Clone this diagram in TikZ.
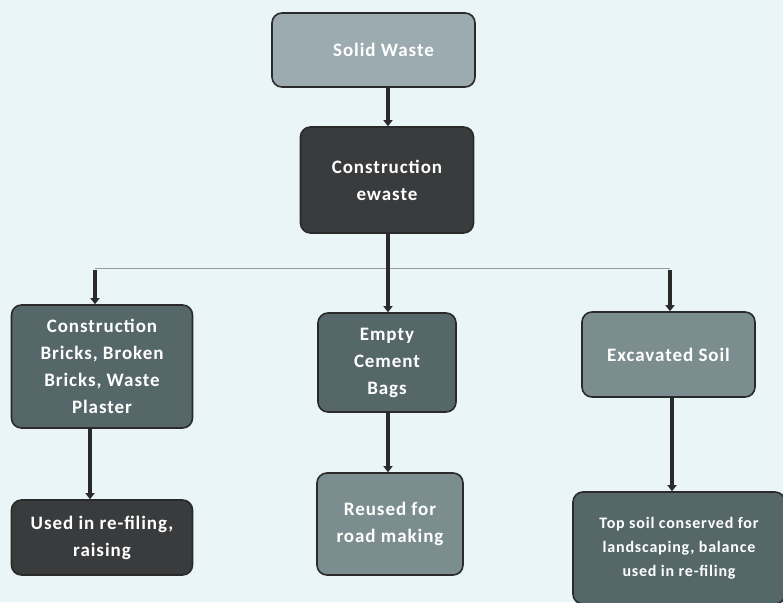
\documentclass[tikz,border=0pt]{standalone}
\usepackage{fontspec}
\setmainfont{Carlito}
\newfontfamily\boxfont[LetterSpace=5]{Carlito}
\usetikzlibrary{arrows.meta}
\definecolor{bg}{HTML}{EAF5F7}
\definecolor{lightbox}{HTML}{9CABB0}
\definecolor{darkbox}{HTML}{3A3B3C}
\definecolor{slatebox}{HTML}{56676A}
\definecolor{midbox}{HTML}{7C8D90}
\definecolor{edge}{HTML}{2A2A2A}
\tikzset{
  box/.style={draw=edge, line width=1.6pt, rounded corners=10pt, text=white,
    align=center, inner sep=0pt, font=\boxfont\fontsize{19}{27}\selectfont\bfseries},
  conn/.style={draw=edge, line width=3.5pt, -{Triangle[width=9pt,length=6pt]}},
  hline/.style={draw=gray!80, line width=1pt}
}
\begin{document}
\begin{tikzpicture}[x=1pt,y=-1pt]
\fill[bg] (0,0) rectangle (783,602);
\useasboundingbox (0,0) rectangle (783,602);
% nodes (centers, sizes)
\node[box, fill=lightbox, minimum width=203pt, minimum height=74pt, font=\boxfont\fontsize{19}{22}\selectfont\bfseries] (sw) at (373.5,50) {\hspace*{20pt}Solid Waste};
\node[box, fill=darkbox, minimum width=173pt, minimum height=106pt] (ce) at (387,180) {Construction\\ewaste};
\node[box, fill=slatebox, minimum width=181pt, minimum height=123pt] (cb) at (102,366.5) {Construction\\Bricks, Broken\\Bricks, Waste\\Plaster};
\node[box, fill=slatebox, minimum width=138pt, minimum height=99pt] (ec) at (387,362.5) {Empty\\Cement\\Bags};
\node[box, fill=midbox, minimum width=173pt, minimum height=85pt] (es) at (668.5,354.5) {Excavated Soil};
\node[box, fill=darkbox, minimum width=181pt, minimum height=75pt] (ur) at (102,537.5) {Used in re-filing,\\raising};
\node[box, fill=midbox, minimum width=146pt, minimum height=102pt] (rr) at (390,524) {Reused for\\road making};
\node[box, fill=slatebox, minimum width=212pt, minimum height=112pt, font=\boxfont\fontsize{16}{24}\selectfont\bfseries] (ts) at (679,548) {Top soil conserved for\\landscaping, balance\\used in re-filing};
% connectors
\coordinate (jm) at (388,268);
\coordinate (jl) at (95,268);
\coordinate (jr) at (670,268);
\draw[hline] (jl) -- (jr);
\draw[conn] (sw.south -| jm) -- (ce.north -| jm);
\draw[conn] (ce.south -| jm) -- (ec.north -| jm);
\draw[conn] ([yshift=-2pt]jl) -- (cb.north -| jl);
\draw[conn] ([yshift=-2pt]jr) -- (es.north -| jr);
\draw[conn] (cb.south -| 90,0) -- (ur.north -| 90,0);
\draw[conn] (ec.south -| jm) -- (rr.north -| jm);
\draw[conn] (es.south -| 672,0) -- (ts.north -| 672,0);
\end{tikzpicture}
\end{document}
